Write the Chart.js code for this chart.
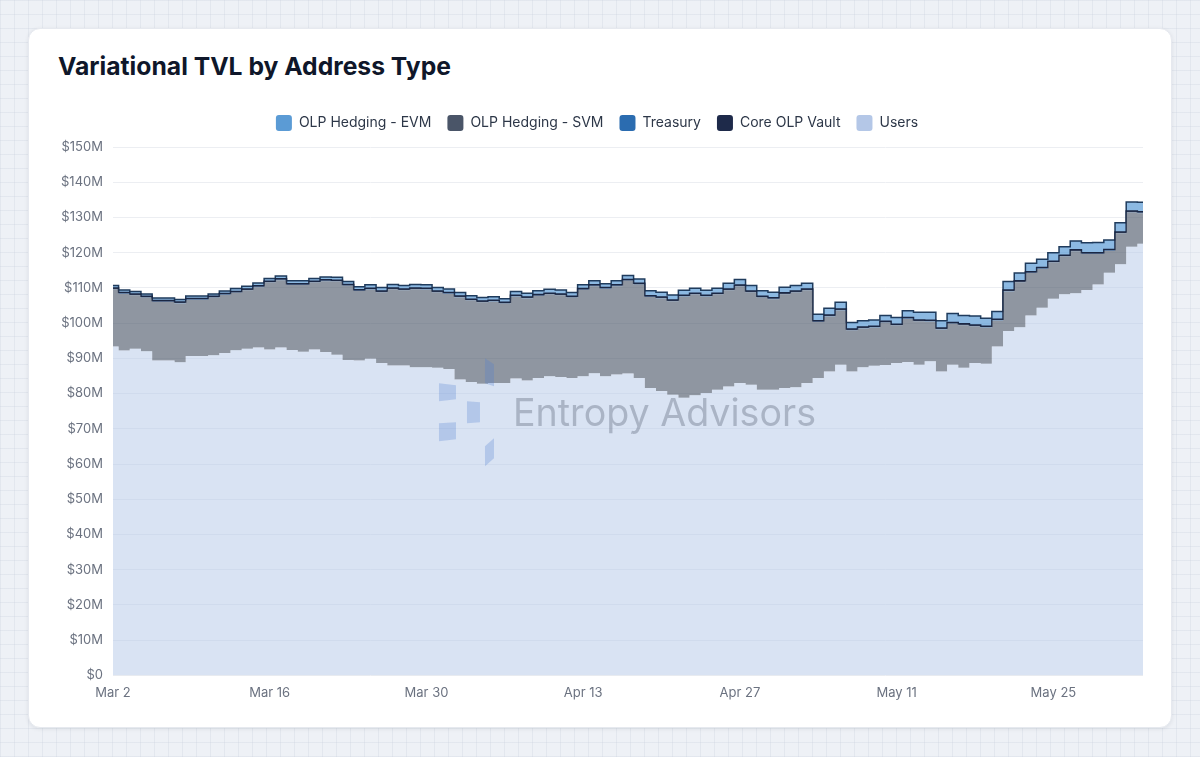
<!DOCTYPE html>
<html>
<head>
<meta charset="utf-8">
<script src="https://cdn.jsdelivr.net/npm/chart.js@4.4.1/dist/chart.umd.min.js"></script>
<style>
html, body { margin: 0; padding: 0; }
body {
  width: 1200px; height: 757px; overflow: hidden; position: relative;
  background-color: #eef1f6;
  background-image: linear-gradient(rgba(205,212,224,.35) 1px, transparent 1px),
                    linear-gradient(90deg, rgba(205,212,224,.35) 1px, transparent 1px);
  background-size: 14px 14px;
  font-family: Inter, sans-serif;
}
.card {
  position: absolute; left: 28px; top: 28px; width: 1144px; height: 700px;
  background: #fff; border-radius: 12px; box-sizing: border-box;
  border: 1px solid #e6e9ef; box-shadow: 0 1px 4px rgba(15,23,42,.08);
}
h1 {
  position: absolute; left: 29px; top: 22px; margin: 0;
  font-size: 24.7px; font-weight: 700; color: #0f172a;
}
.wrap { position: absolute; left: 22px; top: 70px; width: 1094px; height: 604px; }
</style>
</head>
<body>
<div class="card">
  <h1>Variational TVL by Address Type</h1>
  <div class="wrap"><canvas id="tvl"></canvas></div>
</div>
<script>
// daily labels, Mar 2 .. Jun 2
var monthNames = ['Jan','Feb','Mar','Apr','May','Jun','Jul','Aug','Sep','Oct','Nov','Dec'];
var labels = [];
for (var d = new Date(2025, 2, 2); d <= new Date(2025, 5, 2); d.setDate(d.getDate() + 1)) {
  labels.push(monthNames[d.getMonth()] + ' ' + d.getDate());
}

// values in $M
var users = [
  93.4, 92.2, 92.7, 92.0, 89.4, 89.4, 88.9, 90.7, 90.7, 90.9, 91.5, 92.3, 92.7, 93.1,
  92.5, 93.1, 92.4, 91.9, 92.5, 91.8, 91.0, 89.5, 89.4, 89.9, 88.7, 88.0, 88.0, 87.5,
  87.5, 87.3, 87.0, 84.0, 83.3, 82.8, 83.0, 83.0, 84.3, 83.7, 84.4, 84.9, 84.7, 84.4,
  84.9, 85.8, 84.9, 85.4, 85.7, 84.4, 81.6, 80.7, 79.7, 78.8, 79.5, 80.2, 81.1, 82.0,
  83.0, 82.5, 81.1, 81.1, 81.6, 81.8, 83.0, 84.4, 86.3, 88.2, 86.3, 87.5, 87.9, 88.1,
  88.7, 89.0, 88.2, 89.2, 86.3, 88.2, 87.3, 88.7, 88.5, 93.4, 97.8, 98.8, 102.2, 104.4,
  106.9, 108.2, 108.5, 109.4, 111.0, 114.3, 116.7, 121.7, 122.5
];
var olpSvm = [
  16.2, 16.1, 15.2, 15.2, 16.6, 16.6, 16.7, 15.9, 15.9, 16.3, 16.5, 16.3, 16.6, 17.1,
  19.0, 19.1, 18.4, 18.9, 19.0, 20.1, 20.8, 21.1, 19.7, 19.6, 20.0, 21.6, 21.3, 22.1,
  22.0, 21.4, 21.3, 23.3, 23.1, 23.1, 23.1, 22.5, 23.2, 23.3, 23.3, 23.2, 23.2, 22.8,
  24.5, 24.7, 24.8, 25.1, 26.3, 26.5, 25.8, 26.3, 26.5, 28.7, 28.6, 27.3, 27.0, 27.3,
  27.4, 26.2, 26.1, 25.7, 26.6, 26.9, 26.3, 15.9, 15.6, 15.4, 11.6, 11.0, 10.8, 12.0,
  10.6, 12.2, 12.3, 11.2, 11.9, 11.6, 12.1, 10.4, 10.2, 7.3, 11.2, 12.8, 12.0, 11.0,
  10.3, 10.7, 11.9, 10.2, 8.6, 6.2, 8.8, 9.7, 8.7
];
var treasury = [
  0.1, 0.1, 0.1, 0.1, 0.1, 0.1, 0.1, 0.1, 0.1, 0.1, 0.1, 0.1, 0.1, 0.1,
  0.1, 0.1, 0.1, 0.1, 0.1, 0.1, 0.1, 0.1, 0.1, 0.1, 0.1, 0.1, 0.1, 0.1,
  0.1, 0.1, 0.1, 0.1, 0.1, 0.1, 0.1, 0.1, 0.1, 0.1, 0.1, 0.1, 0.1, 0.1,
  0.1, 0.1, 0.1, 0.1, 0.1, 0.1, 0.1, 0.1, 0.1, 0.1, 0.1, 0.1, 0.1, 0.1,
  0.1, 0.1, 0.1, 0.1, 0.1, 0.1, 0.1, 0.1, 0.1, 0.1, 0.1, 0.1, 0.1, 0.1,
  0.1, 0.1, 0.1, 0.1, 0.1, 0.1, 0.1, 0.1, 0.1, 0.1, 0.1, 0.1, 0.1, 0.1,
  0.1, 0.1, 0.1, 0.1, 0.1, 0.1, 0.1, 0.1, 0.1
];
var coreVault = [
  0.3, 0.3, 0.3, 0.3, 0.3, 0.3, 0.3, 0.3, 0.3, 0.3, 0.3, 0.3, 0.3, 0.3,
  0.3, 0.3, 0.3, 0.3, 0.3, 0.3, 0.3, 0.3, 0.3, 0.3, 0.3, 0.3, 0.3, 0.3,
  0.3, 0.3, 0.3, 0.3, 0.3, 0.3, 0.3, 0.3, 0.3, 0.3, 0.3, 0.3, 0.3, 0.3,
  0.3, 0.3, 0.3, 0.3, 0.3, 0.3, 0.3, 0.3, 0.3, 0.3, 0.3, 0.3, 0.3, 0.3,
  0.3, 0.3, 0.3, 0.3, 0.3, 0.3, 0.3, 0.3, 0.3, 0.3, 0.3, 0.3, 0.3, 0.3,
  0.3, 0.3, 0.3, 0.3, 0.3, 0.3, 0.3, 0.3, 0.3, 0.3, 0.3, 0.3, 0.3, 0.3,
  0.3, 0.3, 0.3, 0.3, 0.3, 0.3, 0.3, 0.3, 0.3
];
var olpEvm = [
  0.7, 0.7, 0.7, 0.7, 0.7, 0.7, 0.7, 0.7, 0.7, 0.7, 0.7, 0.8, 0.8, 0.8,
  0.8, 0.8, 0.8, 0.8, 0.8, 0.8, 0.8, 0.8, 0.8, 1.0, 1.0, 1.0, 1.0, 1.0,
  1.0, 1.0, 1.0, 1.0, 1.0, 1.0, 1.0, 1.0, 1.1, 1.1, 1.1, 1.1, 1.1, 1.1,
  1.1, 1.1, 1.1, 1.1, 1.1, 1.2, 1.4, 1.4, 1.4, 1.4, 1.4, 1.4, 1.4, 1.6,
  1.6, 1.6, 1.6, 1.6, 1.6, 1.6, 1.6, 1.8, 1.9, 1.9, 1.9, 1.8, 1.8, 1.7,
  1.9, 1.9, 2.2, 2.3, 2.1, 2.5, 2.4, 2.5, 2.3, 2.2, 2.4, 2.2, 2.4, 2.3,
  2.4, 2.4, 2.5, 2.8, 2.9, 2.7, 2.6, 2.6, 2.7
];
var yTicks = [0, 10, 20, 30, 40, 50, 60, 70, 80, 90, 100, 110, 120, 130, 140, 150];

var legendOrder = ['OLP Hedging - EVM', 'OLP Hedging - SVM', 'Treasury', 'Core OLP Vault', 'Users'];
var legendColors = {
  'OLP Hedging - EVM': '#5b9bd5',
  'OLP Hedging - SVM': '#4a5568',
  'Treasury': '#2b6cb0',
  'Core OLP Vault': '#1e2a4a',
  'Users': '#b4c7e7'
};

// a bit more room under the legend
var legendGap = {
  id: 'legendGap',
  beforeInit: function(chart) {
    var fit = chart.legend.fit;
    chart.legend.fit = function() {
      fit.bind(chart.legend)();
      this.height += 6;
    };
  }
};

// watermark, drawn in the middle of the plot
var watermark = {
  id: 'watermark',
  afterDatasetsDraw: function(chart) {
    var ctx = chart.ctx, a = chart.chartArea;
    var cx = (a.left + a.right) / 2, cy = (a.top + a.bottom) / 2;
    var shapes = [
      [[-189,-28],[-172,-26],[-172,-12],[-189,-10]],
      [[-161,-10],[-148,-9],[-148,11],[-161,12]],
      [[-189,12],[-172,11],[-172,28],[-189,30]],
      [[-143,-53],[-134,-47],[-134,-25],[-143,-28]],
      [[-143,35],[-134,27],[-134,47],[-143,55]]
    ];
    ctx.save();
    ctx.fillStyle = 'rgba(80,125,210,0.28)';
    shapes.forEach(function(s) {
      ctx.beginPath();
      ctx.moveTo(cx + s[0][0], cy + s[0][1]);
      for (var i = 1; i < s.length; i++) ctx.lineTo(cx + s[i][0], cy + s[i][1]);
      ctx.closePath();
      ctx.fill();
    });
    ctx.font = '38px Inter';
    ctx.fillStyle = 'rgba(100,110,130,0.4)';
    ctx.textBaseline = 'alphabetic';
    var w = ctx.measureText('Entropy Advisors').width;
    var sx = 303 / w;
    ctx.translate(cx - 115, cy + 15);
    ctx.scale(sx, 1);
    ctx.fillText('Entropy Advisors', 0, 0);
    ctx.restore();
  }
};

function ds(label, data, bg, border, bw, fill) {
  return {
    label: label, data: data, backgroundColor: bg, borderColor: border,
    borderWidth: bw, fill: fill, stepped: 'middle', pointRadius: 0, pointHoverRadius: 0
  };
}

new Chart(document.getElementById('tvl'), {
  type: 'line',
  data: {
    labels: labels,
    datasets: [
      ds('Users', users, 'rgba(180,199,231,0.5)', 'rgba(180,199,231,0)', 0, 'origin'),
      ds('OLP Hedging - SVM', olpSvm, 'rgba(74,85,104,0.62)', 'rgba(74,85,104,0)', 0, '-1'),
      ds('Treasury', treasury, 'rgba(43,108,176,0.7)', 'rgba(43,108,176,0)', 0, '-1'),
      ds('Core OLP Vault', coreVault, 'rgba(30,42,74,0.8)', '#1a2744', 1.5, '-1'),
      ds('OLP Hedging - EVM', olpEvm, 'rgba(91,155,213,0.7)', '#1f3b5c', 1.5, '-1')
    ]
  },
  options: {
    responsive: true,
    maintainAspectRatio: false,
    animation: false,
    layout: { padding: { left: 0, right: 2, top: 0, bottom: 0 } },
    plugins: {
      tooltip: { enabled: false },
      legend: {
        position: 'top',
        labels: {
          boxWidth: 16, boxHeight: 16, useBorderRadius: true, borderRadius: 3,
          padding: 16, color: '#2d3748', font: { family: 'Inter', size: 14 },
          sort: function(a, b) { return legendOrder.indexOf(a.text) - legendOrder.indexOf(b.text); },
          generateLabels: function(chart) {
            var items = Chart.defaults.plugins.legend.labels.generateLabels(chart);
            items.forEach(function(it) {
              it.fillStyle = legendColors[it.text];
              it.strokeStyle = legendColors[it.text];
              it.lineWidth = 0;
            });
            return items;
          }
        }
      }
    },
    scales: {
      x: {
        type: 'category',
        offset: false,
        grid: { display: false },
        border: { display: false },
        ticks: {
          autoSkip: false, maxRotation: 0, padding: 2, color: '#6b7280',
          font: { family: 'Inter', size: 13 },
          callback: function(v, i) { return i % 14 === 0 ? labels[i] : null; }
        }
      },
      y: {
        stacked: true,
        min: yTicks[0], max: yTicks[yTicks.length - 1],
        grid: { color: '#eceef2', drawTicks: false },
        border: { display: false },
        afterBuildTicks: function(scale) { scale.ticks = yTicks.map(function(v) { return { value: v }; }); },
        ticks: {
          padding: 10, color: '#6b7280', font: { family: 'Inter', size: 13 },
          callback: function(v) { return v === 0 ? '$0' : '$' + v + 'M'; }
        }
      }
    }
  },
  plugins: [legendGap, watermark]
});
</script>
</body>
</html>
